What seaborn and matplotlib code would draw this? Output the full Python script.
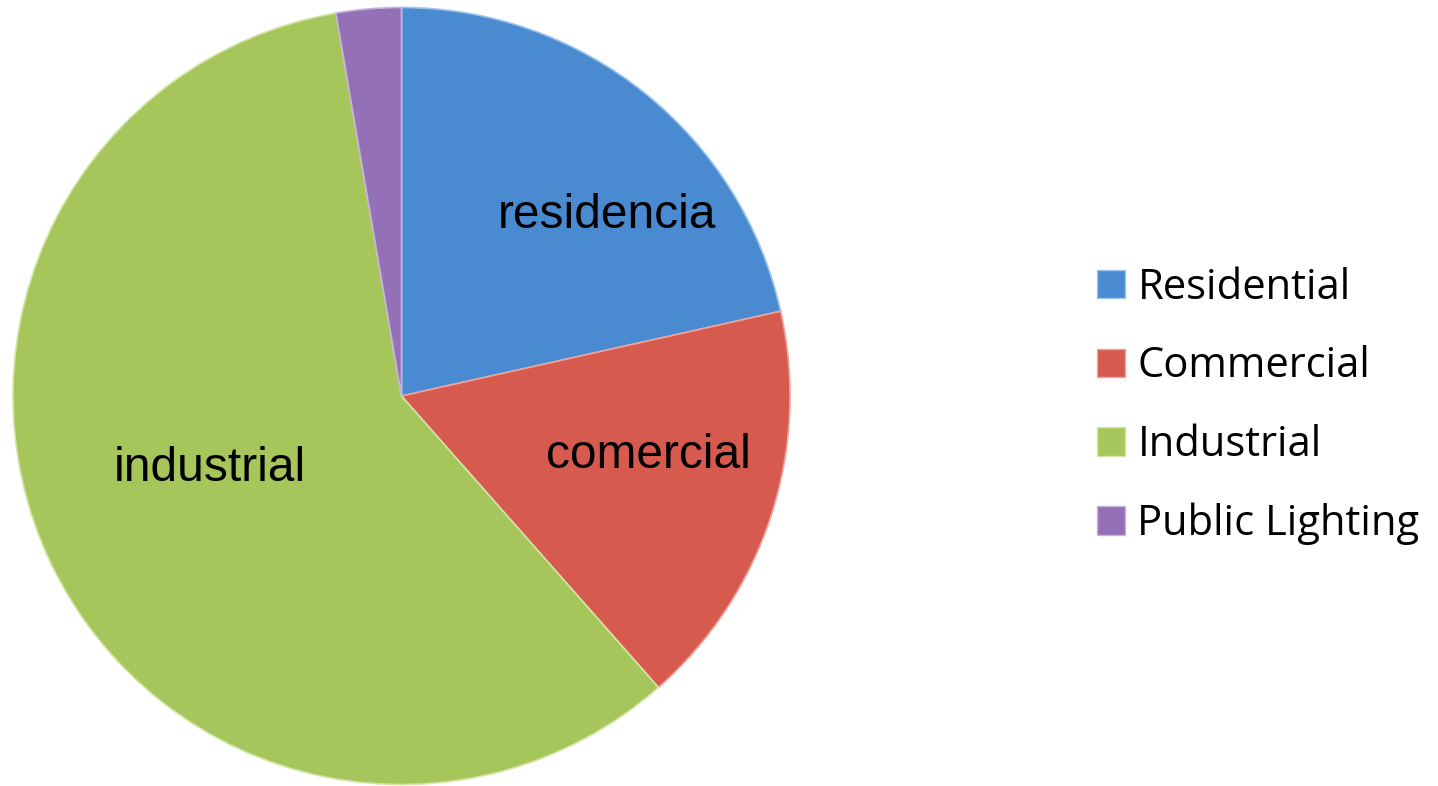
import matplotlib
matplotlib.use("Agg")
import matplotlib.pyplot as plt
import seaborn as sns
from matplotlib.patches import Patch

sns.set_theme(style="white")
plt.rcParams['font.family'] = ['Liberation Sans', 'DejaVu Sans']

categories = ["Residential", "Commercial", "Industrial", "Public Lighting"]
values = [21.5, 17.0, 58.8, 2.7]
inner_labels = ["residencia", "comercial", "industrial", ""]
colors = ["#4A8AD0", "#D65A4E", "#A6C55A", "#9470B6"]
edge_colors = ["#9CC3EE", "#F0A39C", "#D3E6A6", "#C7B1DD"]

W, H = 1438, 786
fig = plt.figure(figsize=(W / 100, H / 100), dpi=100)
fig.patch.set_facecolor("white")

cx, cy, r = 401.5, 396.0, 388.5
ax = fig.add_axes([(cx - r) / W, (H - cy - r) / H, 2 * r / W, 2 * r / H])
wedges, _ = ax.pie(values, colors=colors, startangle=90, counterclock=False,
                   radius=1.0, wedgeprops=dict(linewidth=1.2))
for w, ec in zip(wedges, edge_colors):
    w.set_edgecolor(ec)
ax.set_xlim(-1, 1)
ax.set_ylim(-1, 1)
ax.set_aspect("equal")
ax.axis("off")

# inner label positions (pixel offsets from centre, converted to radius units)
label_px = [(607, 215), (648, 456), (210, 469)]
for txt, (px, py) in zip(inner_labels, label_px):
    ax.text((px - cx) / r, (cy - py) / r, txt, ha="center", va="center",
            fontsize=34.5, color="black", family=["Liberation Sans", "DejaVu Sans"])

handles = [Patch(facecolor=c, edgecolor=e, linewidth=1) for c, e in zip(colors, edge_colors)]
fig.legend(handles, categories, loc="center left",
           bbox_to_anchor=(1097 / W, 1 - 406 / H),
           frameon=False, prop={"family": ["Open Sans", "DejaVu Sans"], "size": 30},
           labelcolor="black",
           handlelength=0.67, handleheight=0.67, handletextpad=0.3,
           labelspacing=0.88, borderaxespad=0, borderpad=0)

fig.savefig("out.png", dpi=100, facecolor="white")
